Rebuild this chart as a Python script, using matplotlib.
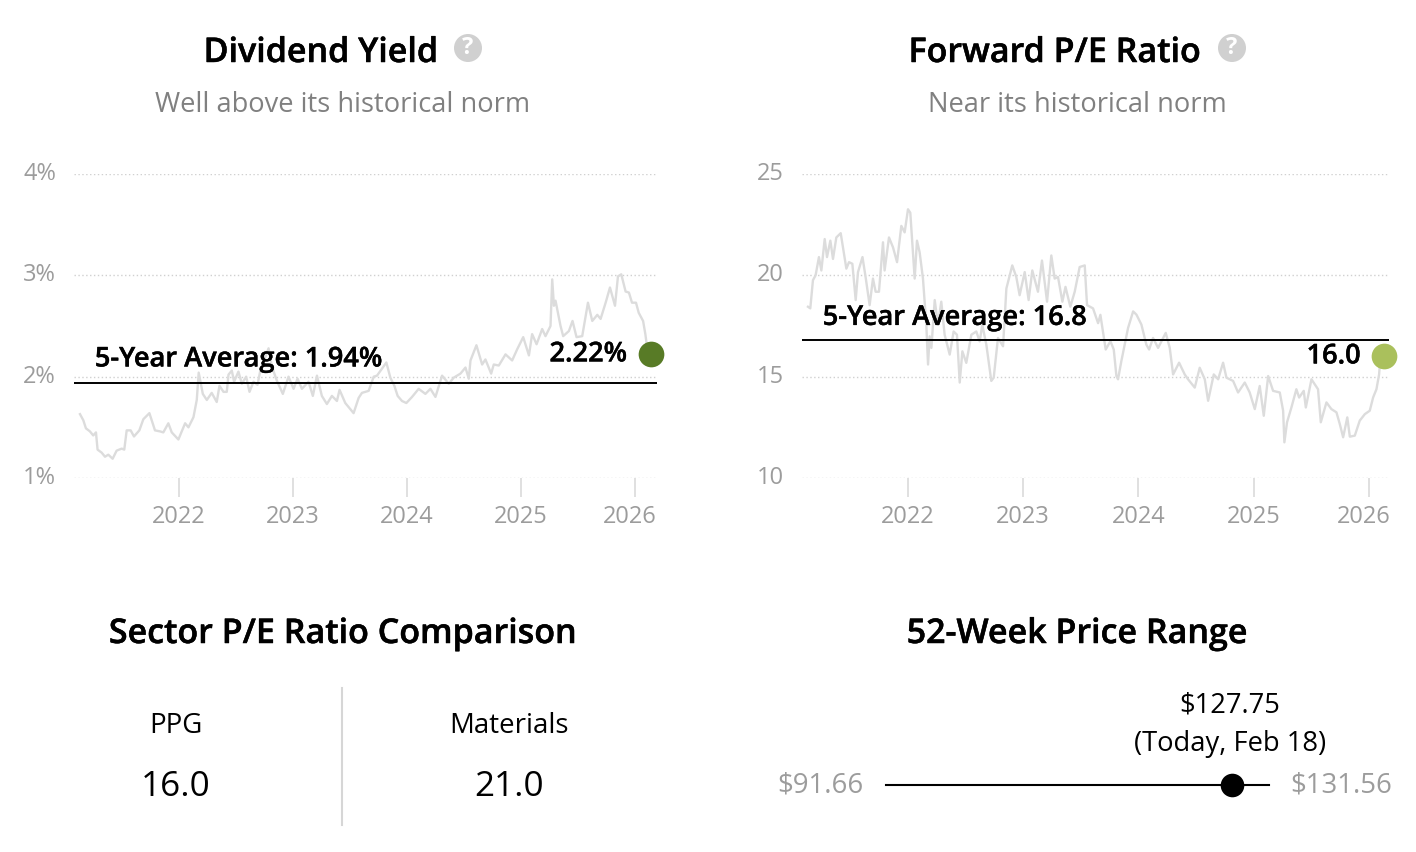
import matplotlib
matplotlib.use("Agg")
import matplotlib.pyplot as plt
from matplotlib.patches import Circle
from matplotlib.transforms import ScaledTranslation
import matplotlib.patheffects as pe

W, H = 1416, 852
plt.rcParams['font.family'] = ['Open Sans', 'DejaVu Sans']

div_years = [2021.135,2021.164,2021.187,2021.222,2021.251,2021.275,2021.289,2021.325,2021.354,2021.383,2021.421,2021.456,2021.50,2021.523,2021.544,2021.579,2021.608,2021.655,2021.69,2021.743,2021.792,2021.836,2021.865,2021.909,2021.939,2021.997,
 2022.056,2022.085,2022.129,2022.158,2022.175,2022.211,2022.246,2022.289,2022.333,2022.357,2022.392,2022.421,2022.436,2022.465,2022.485,2022.523,2022.553,2022.591,2022.62,2022.655,2022.69,2022.713,2022.787,2022.816,2022.86,2022.912,2022.962,
 2023.006,2023.041,2023.079,2023.137,2023.175,2023.211,2023.254,2023.298,2023.342,2023.386,2023.409,2023.459,2023.532,2023.576,2023.605,2023.664,2023.708,2023.737,2023.819,2023.854,2023.889,2023.918,2023.956,2023.994,
 2024.044,2024.102,2024.161,2024.205,2024.249,2024.307,2024.366,2024.409,2024.468,2024.512,2024.541,2024.556,2024.608,2024.658,2024.687,2024.737,2024.76,2024.804,2024.863,2024.921,2024.965,
 2025.018,2025.068,2025.096,2025.135,2025.184,2025.213,2025.257,2025.272,2025.287,2025.301,2025.345,2025.368,2025.418,2025.45,2025.485,2025.535,2025.585,2025.623,2025.667,2025.696,2025.74,2025.778,2025.822,2025.848,2025.877,2025.915,2025.944,2025.971,
 2026.006,2026.03,2026.068,2026.088,2026.103,2026.14]
div_vals = [1.63,1.57,1.49,1.46,1.42,1.45,1.28,1.25,1.21,1.23,1.19,1.27,1.29,1.28,1.47,1.47,1.41,1.47,1.58,1.64,1.47,1.46,1.45,1.54,1.45,1.38,
 1.54,1.50,1.60,1.77,2.04,1.83,1.77,1.84,1.75,1.91,1.85,1.85,2.02,2.06,1.95,2.05,1.93,2.0,1.85,1.95,1.92,2.05,2.28,2.1,1.96,1.83,2.0,
 1.88,1.98,1.88,1.95,1.81,2.01,1.81,1.73,1.81,1.76,1.87,1.74,1.64,1.79,1.84,1.86,2.0,2.01,2.14,1.99,1.91,1.81,1.76,1.74,
 1.80,1.88,1.83,1.88,1.80,2.01,1.93,1.99,2.03,2.09,1.98,2.16,2.31,2.12,2.17,2.03,2.12,2.11,2.22,2.16,2.27,
 2.39,2.21,2.42,2.32,2.47,2.4,2.5,2.96,2.70,2.75,2.5,2.4,2.45,2.55,2.39,2.40,2.73,2.55,2.61,2.57,2.73,2.88,2.70,2.99,3.01,2.84,2.83,2.73,
 2.73,2.63,2.55,2.42,2.29,2.22]

pe_years = [2021.132,2021.152,2021.175,2021.198,2021.227,2021.248,2021.277,2021.297,2021.326,2021.349,2021.378,2021.416,2021.465,2021.488,2021.517,2021.546,2021.566,2021.605,2021.634,2021.667,2021.696,2021.719,2021.748,2021.783,2021.797,2021.835,2021.87,2021.905,2021.942,2021.971,
 2022.0,2022.02,2022.058,2022.078,2022.101,2022.13,2022.159,2022.174,2022.188,2022.203,2022.232,2022.26,2022.289,2022.318,2022.362,2022.396,2022.425,2022.449,2022.472,2022.506,2022.55,2022.593,2022.622,2022.645,2022.68,2022.723,2022.744,2022.781,2022.825,2022.854,2022.905,2022.94,2022.969,
 2023.013,2023.047,2023.079,2023.128,2023.163,2023.207,2023.244,2023.273,2023.302,2023.34,2023.367,2023.409,2023.447,2023.49,2023.534,2023.554,2023.606,2023.65,2023.67,2023.716,2023.757,2023.786,2023.809,2023.823,2023.852,2023.881,2023.91,2023.954,2023.983,
 2024.026,2024.069,2024.093,2024.127,2024.171,2024.2,2024.237,2024.272,2024.301,2024.353,2024.402,2024.431,2024.489,2024.532,2024.576,2024.605,2024.654,2024.692,2024.735,2024.764,2024.822,2024.865,2024.923,2024.966,
 2025.01,2025.053,2025.088,2025.126,2025.169,2025.227,2025.256,2025.267,2025.29,2025.328,2025.371,2025.395,2025.435,2025.453,2025.502,2025.559,2025.583,2025.632,2025.675,2025.719,2025.748,2025.777,2025.813,2025.835,2025.878,2025.921,2025.965,
 2026.008,2026.037,2026.066,2026.089,2026.1,2026.138]
pe_vals = [18.45,18.37,19.76,20.0,20.9,20.24,21.79,20.9,21.71,20.81,21.87,22.08,20.33,20.65,20.57,18.78,20.16,20.9,19.84,18.53,19.84,19.19,19.19,21.63,20.24,21.87,21.38,20.65,22.44,22.12,
 23.26,23.09,19.84,21.71,21.14,19.84,17.56,15.6,16.99,16.42,18.78,17.56,18.7,17.07,16.09,17.23,17.07,14.71,16.25,15.68,17.07,17.23,16.74,17.56,16.58,14.79,14.95,16.91,16.5,19.35,20.49,19.92,19.02,
 20.16,18.78,20.24,19.19,20.73,18.7,20.98,19.84,19.92,18.7,19.43,18.45,19.19,20.41,20.49,18.53,18.37,17.64,18.05,16.34,16.75,16.34,15.03,14.87,15.77,16.58,17.4,18.22,18.06,
 17.57,16.58,16.34,16.91,16.42,16.75,17.16,16.42,15.11,15.69,15.11,14.87,14.46,15.44,14.87,13.81,15.11,14.87,15.69,14.95,14.79,14.22,14.71,14.22,
 13.4,14.54,13.07,15.03,14.3,14.22,13.32,11.76,12.75,13.48,14.38,13.97,14.3,13.48,14.87,14.38,12.75,13.73,13.4,13.24,12.66,12.01,12.99,12.04,12.09,12.83,13.15,
 13.32,13.97,14.38,15.11,15.93,16.0]

year_ticks = [2022, 2023, 2024, 2025, 2026]
div_ticks = [1, 2, 3, 4]
div_tick_labels = ['1%', '2%', '3%', '4%']
pe_ticks = [10, 15, 20, 25]
div_avg = 1.94
pe_avg = 16.8
div_now = 2.22
pe_now = 16.0
now_year = 2026.134
sector_names = ['PPG', 'Materials']
sector_pe = [16.0, 21.0]
low, high, price = 91.66, 131.56, 127.75

fig = plt.figure(figsize=(W/100, H/100), dpi=100, facecolor='white')

def px_axes(x0, x1, ytop, ybot):
    ax = fig.add_axes([x0/W, 1-ybot/H, (x1-x0)/W, (ybot-ytop)/H])
    ax.patch.set_alpha(0)
    for s in ax.spines.values():
        s.set_visible(False)
    return ax

GREY = '#9c9c9c'
LINE = '#dcdcdc'
BOLD = [pe.withStroke(linewidth=0.3, foreground='black')]

def history(box, xlim, ylim, xs, ys, ticks, labels, avg, avg_label, avg_xy, now, now_label, now_x, dot, last_shift):
    ax = px_axes(*box)
    ax.set_xlim(*xlim); ax.set_ylim(*ylim)
    ax.set_yticks(ticks); ax.set_yticklabels(labels, fontsize=17, color=GREY)
    ax.tick_params(axis='y', length=0, pad=13)
    for tick in ax.yaxis.get_major_ticks():
        tick.label1.set_verticalalignment('center')
    ax.set_xticks(year_ticks); ax.set_xticklabels([str(y) for y in year_ticks], fontsize=17, color=GREY)
    ax.tick_params(axis='x', length=13.7, width=1.3, color='#dddddd', pad=6, direction='out')
    last = ax.xaxis.get_major_ticks()[-1].label1
    last.set_transform(last.get_transform() + ScaledTranslation(last_shift/100, 0, fig.dpi_scale_trans))
    ax.grid(axis='y', color='#d0d0d0', linestyle=(0, (1, 1.8)), linewidth=1)
    ax.set_axisbelow(True)
    ax.plot(xs, ys, color=LINE, lw=1.7, solid_joinstyle='round', zorder=2)
    ax.axhline(avg, color='black', lw=1.4, zorder=3)
    ax.text(avg_xy[0], avg_xy[1], avg_label, fontsize=19.6, fontweight=600, color='black', va='center', ha='left',
            zorder=4, path_effects=BOLD)
    ax.plot([now_x], [now], 'o', ms=18.5, mfc=dot, mec='none', clip_on=False, zorder=5)
    ax.annotate(now_label, (now_x, now), xytext=(-17, 0), textcoords='offset points', fontsize=19.6, fontweight=600,
                ha='right', va='center', color='black', zorder=5, path_effects=BOLD)
    return ax

history((74, 657, 174, 478), (2021.0825, 2026.19), (1, 4), div_years, div_vals, div_ticks, div_tick_labels,
        div_avg, '5-Year Average: 1.94%', (2021.265, 2.17), div_now, '2.22%', now_year, '#587b26', -6)
history((802, 1389, 174, 478), (2021.08, 2026.175), (10, 25), pe_years, pe_vals, pe_ticks, [str(t) for t in pe_ticks],
        pe_avg, '5-Year Average: 16.8', (2021.26, 17.9), pe_now, '16.0', now_year, '#aac05c', -5)

txt = px_axes(0, W, 0, H)
txt.set_xlim(0, W); txt.set_ylim(H, 0); txt.axis('off')

def T(x, y, s, size, color='black', weight='normal', ha='center'):
    t = txt.text(x, y + 3, s, fontsize=size, color=color, fontweight=weight, ha=ha, va='center')
    if weight != 'normal':
        t.set_path_effects([pe.withStroke(linewidth=0.35, foreground=color)])

def qmark(x, y):
    txt.add_patch(Circle((x, y), 14, color='#d0d0d0', lw=0))
    txt.text(x, y, '?', fontsize=17, fontweight='bold', color='white', ha='center', va='center')

T(320.5, 50, 'Dividend Yield', 24.5, weight=600)
qmark(468, 48)
T(342.5, 102, 'Well above its historical norm', 19.6, color='#808080')
T(1054.5, 50, 'Forward P/E Ratio', 24.5, weight=600)
qmark(1232, 48)
T(1077, 102, 'Near its historical norm', 19.6, color='#808080')
T(342.5, 631, 'Sector P/E Ratio Comparison', 24.5, weight=600)
T(1077, 631, '52-Week Price Range', 24.5, weight=600)

T(176, 723, sector_names[0], 19.9)
T(509.5, 723, sector_names[1], 19.9)
T(175.5, 784, f'{sector_pe[0]:.1f}', 25.3)
T(509.5, 784, f'{sector_pe[1]:.1f}', 25.3)
txt.plot([342, 342], [688, 825], color='#d6d6d6', lw=1.5)

rng = px_axes(886, 1269, 770, 800)
rng.set_xlim(low, high); rng.set_ylim(0, 1); rng.axis('off')
rng.plot([low, high], [0.5, 0.5], color='black', lw=1.5, clip_on=False)
rng.plot([price], [0.5], 'o', ms=17, color='black', mec='none', clip_on=False, zorder=3)
T(820, 782, f'${low:.2f}', 19.9, color=GREY)
T(1341, 782, f'${high:.2f}', 19.9, color=GREY)
T(1230, 703, f'${price:.2f}', 19.7)
T(1230, 741, '(Today, Feb 18)', 19.7)

fig.savefig('out.png', dpi=100)
